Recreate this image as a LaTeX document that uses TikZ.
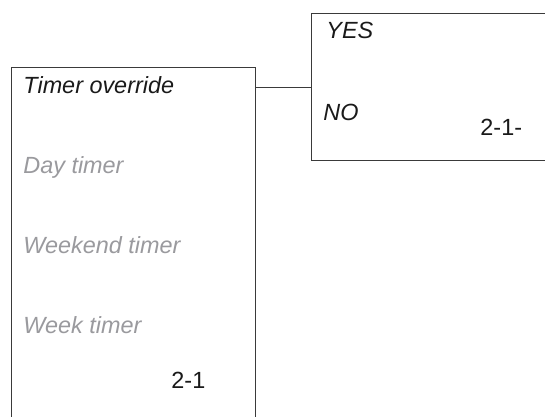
\documentclass[tikz,border=0pt]{standalone}
\usepackage{fontspec}
\setmainfont{Liberation Sans}
\usetikzlibrary{positioning}
\definecolor{cline}{HTML}{3A3A3A}
\definecolor{cdim}{HTML}{9A9A9E}
\definecolor{cink}{HTML}{1A1A1A}
\tikzset{
  every picture/.style={font=\fontsize{23.4}{28}\selectfont, line width=0.9pt},
  panel/.style={draw=cline, fill=white, inner sep=0pt, anchor=north west},
  item/.style={anchor=base west, inner sep=0pt, font=\fontsize{23.4}{28}\selectfont\itshape, text=#1},
  item/.default=cink,
  pageno/.style={anchor=base west, inner sep=0pt, text=cink},
  link/.style={draw=cline, line width=0.9pt},
}
\begin{document}
\begin{tikzpicture}[x=1pt, y=1pt]
  \clip (0,0) rectangle (545,416);
  \useasboundingbox (0,0) rectangle (545,416);
  % menu boxes
  \node[panel, minimum width=244pt, minimum height=370pt] (menu) at (11,349) {};
  \node[panel, minimum width=250pt, minimum height=147pt] (choice) at (311,403) {};
  % left menu entries
  \foreach \t/\c [count=\k] in {Timer override/cink, Day timer/cdim, Weekend timer/cdim, Week timer/cdim} {
    \node[item=\c] (m\k) at (23,403-80*\k) {\t};
  }
  \node[pageno] (pg1) at (171,28) {2-1};
  % right choice entries
  \node[item] (yes) at (326,377) {YES};
  \node[item] (no) at (323,296) {NO};
  \node[pageno] (pg2) at (480,281) {2-1-};
  % connector
  \coordinate (jl) at (menu.east |- 0,329);
  \coordinate (jr) at (choice.west |- 0,329);
  \draw[link] (jl) -- (jr);
\end{tikzpicture}
\end{document}
